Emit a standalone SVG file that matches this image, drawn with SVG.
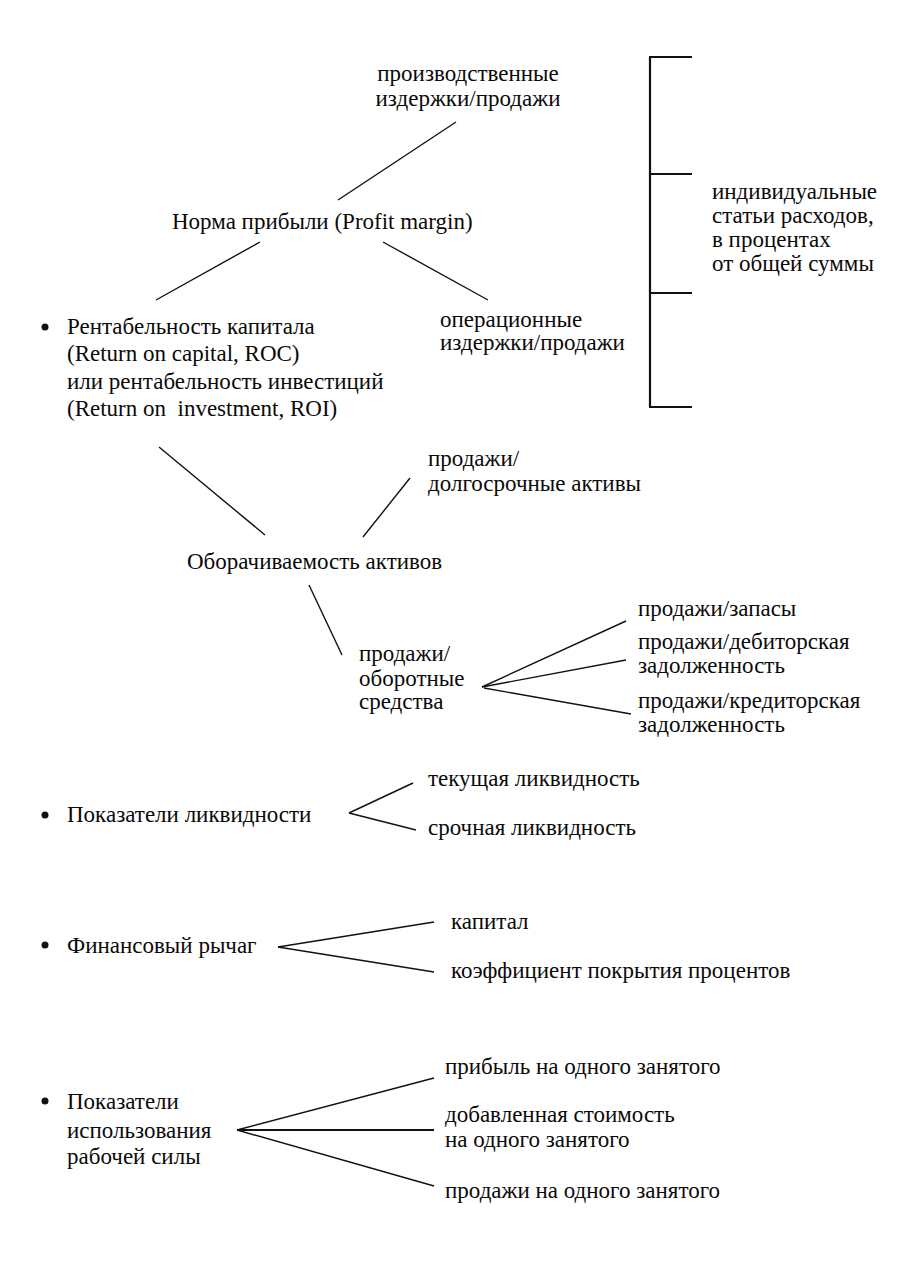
<svg xmlns="http://www.w3.org/2000/svg" width="909" height="1276" viewBox="0 0 909 1276">
<style>
text{font-family:"Liberation Serif","DejaVu Serif",serif;font-size:23px;fill:#0a0a0a}
.c{text-anchor:middle}
line{stroke:#111;stroke-width:1.4}
.b{stroke-width:2.2}
</style>
<rect width="909" height="1276" fill="#fff"/>
<g id="connectors">
<line x1="456" y1="122" x2="338" y2="200"/>
<line x1="260" y1="242" x2="156" y2="300"/>
<line x1="383" y1="242" x2="488" y2="300"/>
<line x1="159" y1="447" x2="265" y2="535"/>
<line x1="410" y1="478" x2="363" y2="537"/>
<line x1="309" y1="585" x2="342" y2="655"/>
<line x1="482" y1="687" x2="626" y2="621"/>
<line x1="482" y1="687" x2="626" y2="660"/>
<line x1="484" y1="688" x2="631" y2="714"/>
<line x1="349" y1="813" x2="413" y2="783"/>
<line x1="349" y1="813" x2="416" y2="830"/>
<line x1="278" y1="947" x2="434" y2="922"/>
<line x1="278" y1="947" x2="434" y2="972"/>
<line x1="237" y1="1130" x2="434" y2="1078"/>
<line class="b" x1="237" y1="1130" x2="434" y2="1130"/>
<line x1="237" y1="1130" x2="434" y2="1186"/>
</g>
<g id="bracket">
<line class="b" x1="650" y1="57" x2="650" y2="407"/>
<line class="b" x1="649" y1="57" x2="692" y2="57"/>
<line class="b" x1="649" y1="174" x2="692" y2="174"/>
<line class="b" x1="649" y1="293" x2="692" y2="293"/>
<line class="b" x1="649" y1="407" x2="692" y2="407"/>
</g>
<g id="prod-costs"><text class="c" x="468" y="81">производственные</text><text class="c" x="468" y="106">издержки/продажи</text></g>
<g id="profit-margin"><text x="172" y="229">Норма прибыли (Profit margin)</text></g>
<g id="roc"><circle cx="45" cy="327" r="3.5" fill="#111"/><text x="67" y="334">Рентабельность капитала</text><text x="67" y="361">(Return on capital, ROC)</text><text x="67" y="389">или рентабельность инвестиций</text><text x="67" y="416">(Return on&#160; investment, ROI)</text></g>
<g id="op-costs"><text x="440" y="327">операционные</text><text x="440" y="350">издержки/продажи</text></g>
<g id="individual"><text x="712" y="199">индивидуальные</text><text x="712" y="223">статьи расходов,</text><text x="712" y="247">в процентах</text><text x="712" y="271">от общей суммы</text></g>
<g id="sales-lt"><text x="428" y="466">продажи/</text><text x="428" y="491">долгосрочные активы</text></g>
<g id="turnover"><text x="187" y="569">Оборачиваемость активов</text></g>
<g id="sales-wc"><text x="359" y="661">продажи/</text><text x="359" y="686">оборотные</text><text x="359" y="709">средства</text></g>
<g id="sales-inv"><text x="638" y="616">продажи/запасы</text></g>
<g id="sales-rec"><text x="638" y="649">продажи/дебиторская</text><text x="638" y="673">задолженность</text></g>
<g id="sales-pay"><text x="638" y="708">продажи/кредиторская</text><text x="638" y="732">задолженность</text></g>
<g id="liquidity"><circle cx="45" cy="815" r="3.5" fill="#111"/><text x="67" y="822">Показатели ликвидности</text></g>
<g id="current"><text x="428" y="786">текущая ликвидность</text></g>
<g id="quick"><text x="428" y="835">срочная ликвидность</text></g>
<g id="leverage"><circle cx="45" cy="945" r="3.5" fill="#111"/><text x="67" y="953">Финансовый рычаг</text></g>
<g id="capital"><text x="451" y="929">капитал</text></g>
<g id="coverage"><text x="451" y="978">коэффициент покрытия процентов</text></g>
<g id="labor"><circle cx="45" cy="1101" r="3.5" fill="#111"/><text x="67" y="1109">Показатели</text><text x="67" y="1138">использования</text><text x="67" y="1164">рабочей силы</text></g>
<g id="profit-emp"><text x="445" y="1074">прибыль на одного занятого</text></g>
<g id="va-emp"><text x="445" y="1122">добавленная стоимость</text><text x="445" y="1147">на одного занятого</text></g>
<g id="sales-emp"><text x="445" y="1198">продажи на одного занятого</text></g>
</svg>
